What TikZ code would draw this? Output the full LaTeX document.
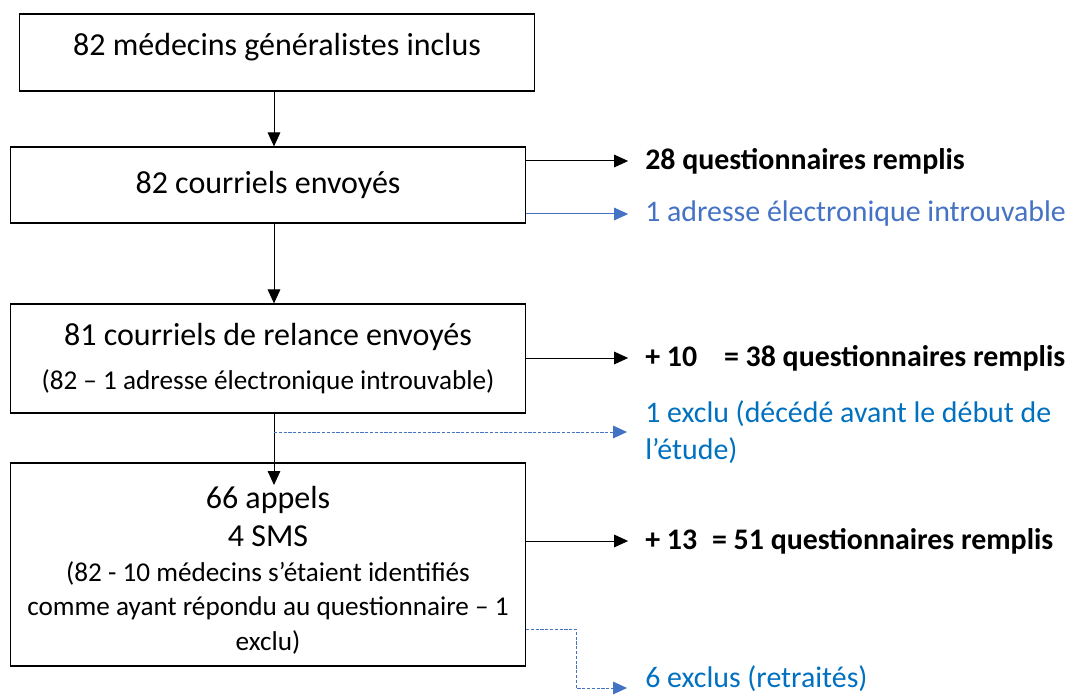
\documentclass[tikz,border=0pt]{standalone}
\usepackage{fontspec}
\setmainfont{Carlito}
\usetikzlibrary{arrows.meta}
\definecolor{accblue}{HTML}{4472C4}
\definecolor{txtblue}{HTML}{0070C0}
\newcommand\bigsz{\fontsize{24}{28.5}\selectfont}
\newcommand\smallsz{\fontsize{20.4}{24.75}\selectfont}

\begin{document}
\begin{tikzpicture}[x=0.75pt, y=-0.75pt,
    box/.style     = {draw, line width=0.9pt, rectangle, minimum width=386.25pt,
                      inner sep=0pt, align=center, font=\bigsz},
    side/.style    = {anchor=west, inner sep=0pt, align=left,
                      font=\fontsize{22.4}{27.75}\selectfont},
    arr/.style     = {-{Triangle[length=10.5pt,width=9.5pt]}, line width=0.75pt},
    dasharr/.style = {arr, accblue, line width=0.6pt, dash pattern=on 2.4pt off 1.2pt},]%
  \useasboundingbox (0,0) rectangle (1071,695);
  % boxes
  \node [box, minimum height=57.75pt, text depth=12pt] (b1) at (277,52.5)
        {82 médecins généralistes inclus};
  \node [box, minimum height=57pt]    (b2) at (268,185)   {82 courriels envoyés};
  \node [box, minimum height=81.75pt] (b3) at (268,358.5)
        {81 courriels de relance envoyés\\[4pt]
         \smallsz (82 – 1 adresse électronique introuvable)};
  \node [box, minimum height=152.25pt,
         label={[align=center, font=\bigsz, yshift=-4pt]center:{66 appels\\
                4 SMS\\[-2pt]
                \smallsz (82 - 10 médecins s’étaient identifiés\\[-2.75pt]
                \smallsz comme ayant répondu au questionnaire – 1\\[-2.75pt]
                \smallsz exclu)}}] (b4) at (268,564.5) {};
  % side texts
  \node [side] (t1) at (645,161) {\textbf{28 questionnaires remplis}};
  \node [side, accblue] (t2) at (645,214) {1 adresse électronique introuvable};
  \node [side] (t3) at (645,358) {\textbf{+ 10\hspace{0.9em}= 38 questionnaires remplis}};
  \node [side, txtblue, anchor=north west] (t4) at (645,400)
        {1 exclu (décédé avant le début de\\l’étude)};
  \node [side] (t5) at (645,541) {\textbf{+ 13\hspace{0.5em}= 51 questionnaires remplis}};
  \node [side, txtblue] (t6) at (645,679) {6 exclus (retraités)};
  % free ends
  \coordinate (in4)   at (274,485);
  \coordinate (split) at (274,432);
  \coordinate (tip4)  at (627,432);
  \coordinate (out6)  at (526,629);
  \coordinate (bend6) at (576,629);
  \coordinate (tip6)  at (627,688);
  % connectors
  \draw [arr] (b1.south -| in4) -- (b2.north -| in4);
  \draw [arr] (b2.south -| in4) -- (b3.north -| in4);
  \draw [arr] (b3.south -| in4) -- (in4);
  \draw [arr] (b2.east |- t1.west) -- +(102,0);
  \draw [arr, accblue] (b2.east |- t2.west) -- +(102,0);
  \draw [arr] (b3.east |- t3.west) -- +(102,0);
  \draw [dasharr] (split) -- (tip4);
  \draw [arr] (b4.east |- t5.west) -- +(102,0);
  \draw [dasharr] (out6) -- (bend6) |- (tip6);
\end{tikzpicture}
\end{document}
